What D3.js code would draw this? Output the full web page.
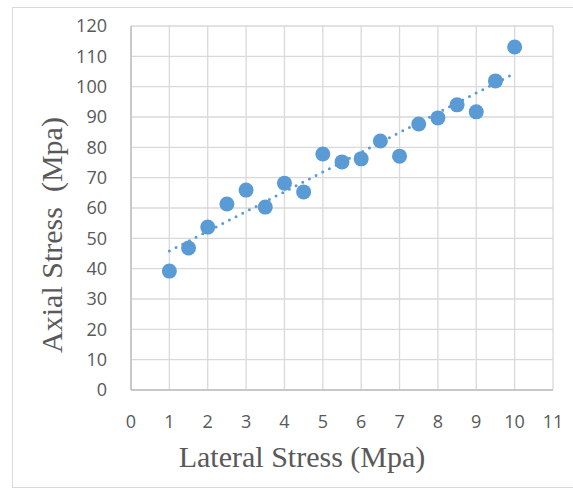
<!DOCTYPE html>
<html>
<head>
<meta charset="utf-8">
<script src="https://cdn.jsdelivr.net/npm/d3@7"></script>
<style>
  body { margin: 0; background: #fff; }
  svg { display: block; }
</style>
</head>
<body>
<svg id="chart" width="573" height="491"></svg>
<script>
// lateral stress (Mpa) and axial stress (Mpa)
var lateral = [1, 1.5, 2, 2.5, 3, 3.5, 4, 4.5, 5, 5.5, 6, 6.5, 7, 7.5, 8, 8.5, 9, 9.5, 10];
var axial = [39.2, 46.8, 53.7, 61.3, 65.9, 60.3, 68.2, 65.3, 77.8, 75.2, 76.2, 82.1, 77.1, 87.7, 89.7, 94.0, 91.7, 101.9, 113.1];
var xTicks = [0, 1, 2, 3, 4, 5, 6, 7, 8, 9, 10, 11];
var yTicks = [0, 10, 20, 30, 40, 50, 60, 70, 80, 90, 100, 110, 120];

var svg = d3.select('#chart');
var pLeft = 131, pRight = 553, pTop = 26, pBottom = 390;

var x = d3.scaleLinear().domain([0, 11]).range([pLeft, pRight]);
var y = d3.scaleLinear().domain([0, 120]).range([pBottom, pTop]);

// outer chart border
svg.append('rect')
    .attr('x', 12.5).attr('y', 7.5)
    .attr('width', 600).attr('height', 480)
    .style('fill', 'none')
    .style('stroke', '#d9d9d9')
    .style('stroke-width', 1);

// grid
svg.append('g').selectAll('line').data(yTicks).enter().append('line')
    .attr('x1', pLeft).attr('x2', pRight)
    .attr('y1', function(d){ return y(d); })
    .attr('y2', function(d){ return y(d); })
    .style('stroke', '#d9d9d9').style('stroke-width', 1.3);

svg.append('g').selectAll('line').data(xTicks).enter().append('line')
    .attr('y1', pTop).attr('y2', pBottom)
    .attr('x1', function(d){ return x(d); })
    .attr('x2', function(d){ return x(d); })
    .style('stroke', '#d9d9d9').style('stroke-width', 1.3);

// axis lines
svg.append('line').attr('x1', pLeft).attr('x2', pLeft).attr('y1', pTop).attr('y2', pBottom)
    .style('stroke', '#bfbfbf').style('stroke-width', 1.5);
svg.append('line').attr('x1', pLeft).attr('x2', pRight).attr('y1', pBottom).attr('y2', pBottom)
    .style('stroke', '#bfbfbf').style('stroke-width', 1.5);

// tick labels
svg.append('g').selectAll('text').data(yTicks).enter().append('text')
    .attr('x', 107)
    .attr('y', function(d){ return y(d); })
    .attr('dy', '0.35em')
    .attr('text-anchor', 'end')
    .style('font-family', '"Open Sans", sans-serif')
    .style('font-size', '18px')
    .style('fill', '#595959')
    .text(function(d){ return d; });

svg.append('g').selectAll('text').data(xTicks).enter().append('text')
    .attr('x', function(d){ return x(d); })
    .attr('y', 428)
    .attr('text-anchor', 'middle')
    .style('font-family', '"Open Sans", sans-serif')
    .style('font-size', '18px')
    .style('fill', '#595959')
    .text(function(d){ return d; });

// trend line (least squares)
var mx = d3.mean(lateral), my = d3.mean(axial);
var sxy = d3.sum(lateral, function(d, i){ return (d - mx) * (axial[i] - my); });
var sxx = d3.sum(lateral, function(d){ return (d - mx) * (d - mx); });
var slope = sxy / sxx, icpt = my - slope * mx;
var ends = d3.extent(lateral);

svg.append('path')
    .datum(ends)
    .attr('d', d3.line()
        .x(function(d){ return x(d); })
        .y(function(d){ return y(icpt + slope * d); }))
    .style('fill', 'none')
    .style('stroke', '#5b9bd5')
    .style('stroke-width', 3)
    .style('stroke-linecap', 'round')
    .style('stroke-dasharray', '0,7.5');

// points
svg.append('g').selectAll('circle').data(lateral).enter().append('circle')
    .attr('cx', function(d){ return x(d); })
    .attr('cy', function(d, i){ return y(axial[i]); })
    .attr('r', 7.5)
    .style('fill', '#5b9bd5');

// axis titles
svg.append('text')
    .attr('x', 302).attr('y', 467)
    .attr('text-anchor', 'middle')
    .style('font-family', '"Liberation Serif", serif')
    .style('font-size', '30px')
    .style('fill', '#595959')
    .text('Lateral Stress (Mpa)');

svg.append('text')
    .attr('transform', 'translate(62,235) rotate(-90)')
    .attr('text-anchor', 'middle')
    .style('font-family', '"Liberation Serif", serif')
    .style('font-size', '30px')
    .style('fill', '#595959')
    .style('white-space', 'pre')
    .text('Axial Stress  (Mpa)');
</script>
</body>
</html>
